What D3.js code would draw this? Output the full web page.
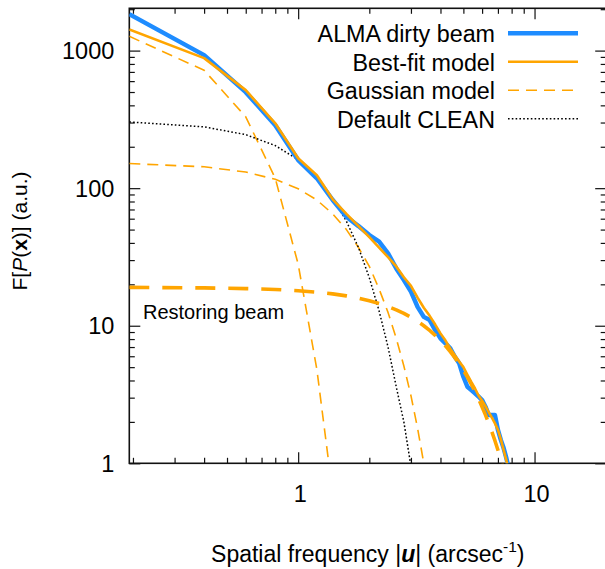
<!DOCTYPE html>
<html><head><meta charset="utf-8">
<script src="https://cdn.jsdelivr.net/npm/d3@7"></script>
<style>
body{margin:0;background:#fff}
svg{display:block}
text{font-family:"Liberation Sans",Arial,sans-serif;fill:#000}
</style>
</head><body>
<svg id="c" width="605" height="569"></svg>
<script>
// ---- data ----
const freq = [0.193, 0.4, 0.6, 0.8, 1.0, 1.2, 1.4, 1.6, 1.8, 2.0, 2.2, 2.4, 2.6, 2.8, 3.0, 3.2, 3.4, 3.6, 3.8, 4.0,
              4.2, 4.4, 4.6, 4.8, 5.0, 5.2, 5.4, 5.6, 5.8, 6.0, 6.2, 6.4, 6.6, 6.8, 7.0, 7.2, 7.4, 7.6, 7.8];
const almaBeam = [1842, 927, 499, 287, 160, 118, 82, 62, 53, 45.6, 40.8, 33.6, 26.1, 21.5, 17.7, 13.7, 11.6, 11.0, 9.3, 8.1,
                  7.45, 6.85, 5.95, 5.33, 4.26, 3.6, 3.41, 3.23, 3.05, 2.88, 2.58, 2.24, 2.24, 2.24, 1.75, 1.48, 1.29, 1.09, 0.9];
const bestFit  = [1426, 882, 516, 296, 165, 124, 83, 65, 53, 44, 37, 31.5, 27, 22.5, 19.5, 16, 13.5, 11.8, 10.2, 8.8,
                  7.8, 6.8, 6.1, 5.5, 5.0, 4.4, 3.9, 3.5, 3.1, 2.85, 2.6, 2.35, 2.15, 1.95, 1.75, 1.5, 1.25, 1.05, 0.85];
const gaussA   = [1270, 720, 330, 118, 28, 4.8, 0.6];
const gaussB   = [151, 143, 131, 116, 99, 82, 65, 50, 37, 27, 18.5, 12.5, 8.1, 5.1, 3.1, 1.8, 1.0, 0.55];
const defaultClean = [303, 279, 245, 204, 161, 120, 85, 57.5, 37, 22.3, 12.8, 7.0, 3.6, 2.0, 0.95];
const restoringBeam = [18.99, 18.83, 18.62, 18.34, 17.97, 17.54, 17.04, 16.48, 15.87, 15.21, 14.52, 13.80, 13.05, 12.29, 11.52,
                       10.76, 10.0, 9.25, 8.52, 7.81, 7.13, 6.48, 5.86, 5.28, 4.74, 4.23, 3.76, 3.33, 2.93, 2.57, 2.25, 1.95,
                       1.69, 1.46, 1.25, 1.07, 0.91];
const xMajor = [1, 10];
const xMinor = [0.2, 0.3, 0.4, 0.5, 0.6, 0.7, 0.8, 0.9, 2, 3, 4, 5, 6, 7, 8, 9];
const yMajor = [1, 10, 100, 1000];
const yMinor = [2, 3, 4, 5, 6, 7, 8, 9, 20, 30, 40, 50, 60, 70, 80, 90, 200, 300, 400, 500, 600, 700, 800, 900, 2000];
const legendLabels = ["ALMA dirty beam", "Best-fit model", "Gaussian model", "Default CLEAN"];

// ---- layout ----
const L = 129.3, R = 606.2, T = 8.3, B = 463.3;
const BLUE = "#1e8cff", ORANGE = "#ffa500";
const svg = d3.select("#c");
const x = d3.scaleLog().domain([0.193, 20.1]).range([L, R]);
const y = d3.scaleLog().domain([1, 2030]).range([B, T]);

svg.append("defs").append("clipPath").attr("id", "clip")
  .append("rect").attr("x", L).attr("y", T).attr("width", R - L).attr("height", B - T);

// ticks (inward on all four sides)
function ticks(axisFn, scale, vals, size, tr) {
  const g = svg.append("g").attr("transform", tr)
    .call(axisFn(scale).tickValues(vals).tickSizeInner(-size).tickSizeOuter(0).tickFormat(""));
  g.select(".domain").remove();
  g.selectAll("line").attr("stroke", "#111").attr("stroke-width", 1.2);
}
ticks(d3.axisBottom, x, xMajor, 11, `translate(0,${B})`);
ticks(d3.axisBottom, x, xMinor, 5.5, `translate(0,${B})`);
ticks(d3.axisTop, x, xMajor, 11, `translate(0,${T})`);
ticks(d3.axisTop, x, xMinor, 5.5, `translate(0,${T})`);
ticks(d3.axisLeft, y, yMajor, 11, `translate(${L},0)`);
ticks(d3.axisLeft, y, yMinor, 5.5, `translate(${L},0)`);
ticks(d3.axisRight, y, yMajor, 11, `translate(${R},0)`);
ticks(d3.axisRight, y, yMinor, 5.5, `translate(${R},0)`);

// frame
svg.append("rect").attr("x", L).attr("y", T).attr("width", R - L).attr("height", B - T)
  .attr("fill", "none").attr("stroke", "#111").attr("stroke-width", 1.6);

// tick labels
svg.append("g").selectAll("text").data(yMajor).join("text")
  .attr("x", L - 15).attr("y", d => y(d) + 8.5).attr("text-anchor", "end")
  .attr("font-size", 23.5).text(d => d);
svg.append("g").selectAll("text").data(xMajor).join("text")
  .attr("x", d => x(d) + 2).attr("y", 502).attr("text-anchor", "middle")
  .attr("font-size", 23.5).text(d => d);

// curves
const line = d3.line().defined(d => d[1] != null).x(d => x(d[0])).y(d => y(d[1]));
const plot = svg.append("g").attr("clip-path", "url(#clip)");
function curve(vals, stroke, width, dash) {
  const pts = vals.map((v, i) => [freq[i], v]);
  plot.append("path").datum(pts).attr("d", line)
    .attr("fill", "none").attr("stroke", stroke).attr("stroke-width", width)
    .attr("stroke-dasharray", dash || null).attr("stroke-linejoin", "round");
}
curve(gaussA, ORANGE, 1.6, "11,7");
curve(gaussB, ORANGE, 1.6, "11,7");
curve(defaultClean, "#000", 1.5, "1.6,2.2");
curve(almaBeam, BLUE, 4.5);
curve(bestFit, ORANGE, 2.6);
curve(restoringBeam, ORANGE, 3.6, "20,13");

// restoring beam label
svg.append("text").attr("x", 143).attr("y", 319).attr("font-size", 20).text("Restoring beam");

// legend
const legStyles = [
  {stroke: BLUE, w: 4.5, dash: null},
  {stroke: ORANGE, w: 2.6, dash: null},
  {stroke: ORANGE, w: 1.6, dash: "11,7"},
  {stroke: "#000", w: 1.5, dash: "1.6,2.2"}
];
const leg = svg.append("g");
legendLabels.forEach((lab, i) => {
  const base = 42 + i * 28.5;
  leg.append("text").attr("x", 495).attr("y", base).attr("text-anchor", "end")
    .attr("font-size", 23.3).text(lab);
  leg.append("line").attr("x1", 508).attr("x2", 578).attr("y1", base - 8.7).attr("y2", base - 8.7)
    .attr("stroke", legStyles[i].stroke).attr("stroke-width", legStyles[i].w)
    .attr("stroke-dasharray", legStyles[i].dash);
});

// axis titles
const xt = svg.append("text").attr("x", (L + R) / 2).attr("y", 562).attr("text-anchor", "middle").attr("font-size", 23);
xt.append("tspan").text("Spatial frequency |");
xt.append("tspan").attr("font-weight", "bold").attr("font-style", "italic").text("u");
xt.append("tspan").text("| (arcsec");
xt.append("tspan").attr("font-size", 15.5).attr("dy", -10).text("-1");
xt.append("tspan").attr("dy", 10).text(")");

const yt = svg.append("text").attr("transform", "translate(27,231) rotate(-90)")
  .attr("text-anchor", "middle").attr("font-size", 21);
yt.append("tspan").text("F[");
yt.append("tspan").attr("font-style", "italic").text("P");
yt.append("tspan").text("(");
yt.append("tspan").attr("font-weight", "bold").text("x");
yt.append("tspan").text(")] (a.u.)");
</script>
</body></html>
